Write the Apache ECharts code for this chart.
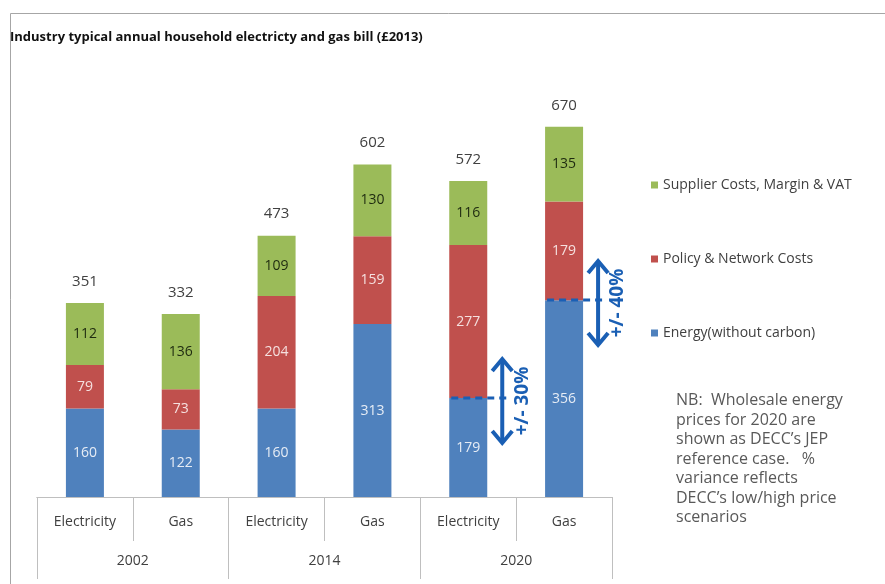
<!DOCTYPE html>
<html><head><meta charset="utf-8">
<script src="https://cdn.jsdelivr.net/npm/echarts@6/dist/echarts.min.js"></script>
<style>html,body{margin:0;padding:0;background:#fff}#c{width:885px;height:584px}</style>
</head><body><div id="c"></div>
<script>
const categories = ['Electricity','Gas','Electricity','Gas','Electricity','Gas'];
const years = ['2002','2014','2020'];
const energy = [160,122,160,313,179,356];
const policy = [79,73,204,159,277,179];
const supplier = [112,136,109,130,116,135];
const totals = [351,332,473,602,572,670];
const seriesNames = ['Energy(without carbon)','Policy & Network Costs','Supplier Costs, Margin & VAT'];
const variance = [{cat:4, value:179, text:'+/- 30%'},{cat:5, value:356, text:'+/- 40%'}];
const noteLines = ['NB:  Wholesale energy','prices for 2020 are','shown as DECC\u2019s JEP','reference case.   %','variance reflects','DECC\u2019s low/high price','scenarios'];

const FONT = '"Open Sans",sans-serif';
const chart = echarts.init(document.getElementById('c'));
const grid = {left:37, right:273, top:55, bottom:87};
function seg(name, data, color, txt){
  return {name, type:'bar', stack:'s', data, barWidth:38, itemStyle:{color},
    label:{show:true, position:'inside', color:txt, fontSize:14, fontFamily:FONT}};
}
const frame = {type:'rect', shape:{x:10.5,y:13.5,width:900,height:600}, style:{fill:'none', stroke:'#a6a6a6', lineWidth:1}};
chart.setOption({
  animation:false,
  title:{text:'Industry typical annual household electricty and gas bill (\u00a32013)', left:10, top:31, padding:0,
    textStyle:{fontSize:13, fontWeight:'bold', color:'#111', fontFamily:FONT}},
  legend:{orient:'vertical', left:646, top:173, itemWidth:7, itemHeight:7, itemGap:60, icon:'rect',
    data:[seriesNames[2],seriesNames[1],seriesNames[0]],
    textStyle:{fontSize:14, color:'#404040', fontFamily:FONT}},
  grid,
  xAxis:[
    {type:'category', data:categories, position:'bottom',
      axisLine:{show:true, lineStyle:{color:'#bfbfbf'}},
      axisTick:{show:true, interval:0, alignWithLabel:false, length:44, lineStyle:{color:'#bfbfbf'}},
      axisLabel:{margin:18, fontSize:14, color:'#404040', fontFamily:FONT}},
    {type:'category', data:years, position:'bottom', gridIndex:0,
      axisLine:{show:true, lineStyle:{color:'#bfbfbf'}},
      axisTick:{show:true, interval:0, alignWithLabel:false, length:82, lineStyle:{color:'#bfbfbf'}},
      axisLabel:{margin:57, fontSize:14, color:'#404040', fontFamily:FONT}}
  ],
  yAxis:{type:'value', min:0, max:800, show:false, splitLine:{show:false}},
  series:[
    seg(seriesNames[0], energy, '#4F81BD', '#e6ecf5'),
    seg(seriesNames[1], policy, '#C0504D', '#f5e0df'),
    seg(seriesNames[2], supplier, '#9BBB59', '#1e2a10'),
    {name:'Total', type:'bar', stack:'s', data:totals.map(()=>0), barWidth:38,
      label:{show:true, position:'top', distance:14, fontSize:15, color:'#404040', fontFamily:FONT,
        formatter:p=>totals[p.dataIndex]}}
  ],
  graphic:[frame]
});

// annotations anchored via the library's own scales
const g = [frame];
const AC = '#1a5fb4';
variance.forEach(v=>{
  const p = chart.convertToPixel({xAxisIndex:0, yAxisIndex:0}, [v.cat, v.value]);
  const bx = p[0];
  const y = Math.round(p[1]);
  const ax = bx + 34, top = y - 40, bot = y + 46;
  g.push({type:'line', shape:{x1:bx-17, y1:y, x2:ax+4, y2:y}, style:{stroke:AC, lineWidth:3, lineDash:[7,5]}, z:10});
  g.push({type:'line', shape:{x1:ax, y1:top+1, x2:ax, y2:bot-1}, style:{stroke:AC, lineWidth:4}, z:10});
  g.push({type:'polyline', shape:{points:[[ax-10,top+13],[ax,top+1],[ax+10,top+13]]}, style:{stroke:AC, lineWidth:4, fill:'none'}, z:10});
  g.push({type:'polyline', shape:{points:[[ax-10,bot-13],[ax,bot-1],[ax+10,bot-13]]}, style:{stroke:AC, lineWidth:4, fill:'none'}, z:10});
  g.push({type:'text', x:ax+20, y:(top+bot)/2, rotation:Math.PI/2,
    style:{text:v.text, fill:AC, font:'bold 19px "Open Sans",sans-serif', align:'center', verticalAlign:'middle'}, z:10});
});
g.push({type:'text', left:676, top:391,
  style:{text:noteLines.join('\n'), fill:'#595959', font:'16px '+FONT, lineHeight:19.5}});
chart.setOption({graphic:g}, {replaceMerge:['graphic']});
</script></body></html>
